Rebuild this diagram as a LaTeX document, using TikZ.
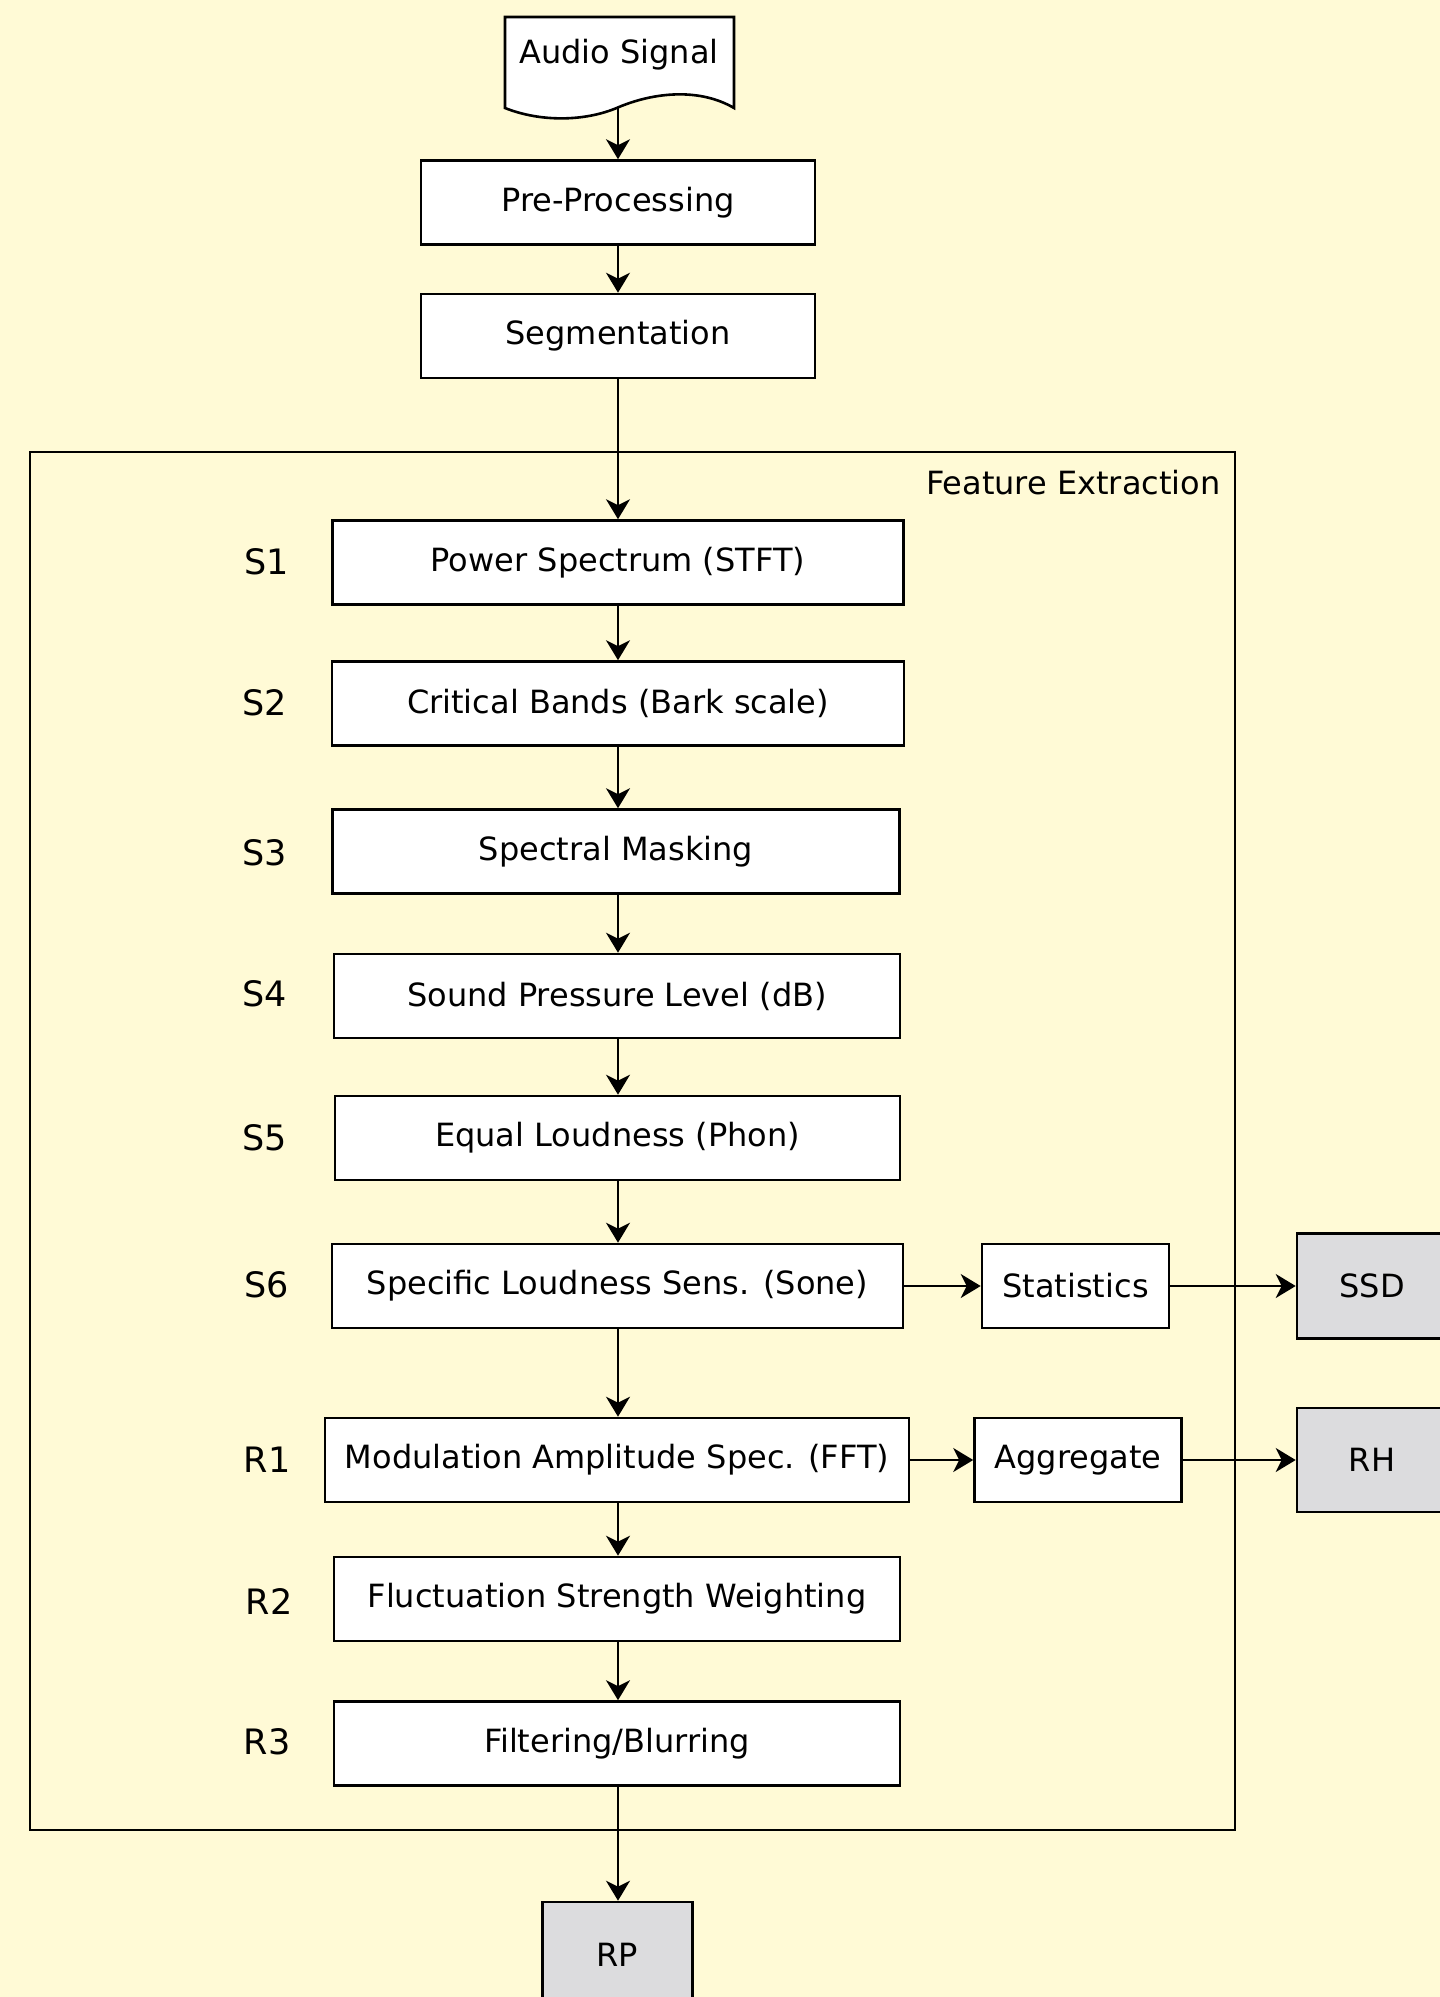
\documentclass[tikz,border=0pt]{standalone}
\usepackage{fontspec}
\setmainfont{DejaVu Sans}
\usetikzlibrary{arrows.meta}
\definecolor{bg}{RGB}{255,250,214}
\definecolor{outgray}{RGB}{220,220,222}
\begin{document}
\begin{tikzpicture}[x=0.5pt,y=-0.5pt,
  box/.style={draw=black, fill=white, line width=1.3pt, minimum height=42pt, minimum width=#1, inner sep=0pt, font=\fontsize{16}{19}\selectfont},
  outbox/.style={draw=black, fill=outgray, line width=1.3pt, minimum width=75pt, minimum height=52.5pt, inner sep=0pt, font=\fontsize{16}{19}\selectfont},
  lbl/.style={font=\fontsize{17.5}{20}\selectfont, inner sep=0pt},
  arr/.style={line width=1.2pt, -{Stealth[length=10pt,width=12pt,inset=3pt]}}
]
\useasboundingbox (0,0) rectangle (1440,1997);
\clip (0,0) rectangle (1440,1997);
\fill[bg] (0,0) rectangle (1440,1997);

% feature extraction frame
\draw[line width=1.2pt] (30,452) rectangle (1235,1830);
\node[anchor=east, font=\fontsize{16}{19}\selectfont, inner sep=0pt] (fetitle) at (1221,483) {Feature Extraction};

% audio signal document shape
\draw[fill=white, line width=1.3pt] (505,17) -- (734,17) -- (734,108)
  .. controls (700,88) and (655,92) .. (619,107)
  .. controls (585,122) and (540,122) .. (505,108) -- cycle;
\node[font=\fontsize{16}{19}\selectfont, inner sep=0pt] (audio) at (619,55) {Audio Signal};
\coordinate (audiobot) at (618,107);

\node[box=197pt] (pre) at (618,202.5) {Pre-Processing};
\node[box=197pt] (seg) at (618,336) {Segmentation};

\node[box=285.5pt] (s1) at (618,562.5) {Power Spectrum (STFT)};
\node[box=286pt] (s2) at (618,703.5) {Critical Bands (Bark scale)};
\node[box=283.5pt] (s3) at (616,851.5) {Spectral Masking};
\node[box=283pt] (s4) at (617,996) {Sound Pressure Level (dB)};
\node[box=282.5pt] (s5) at (617.5,1138) {Equal Loudness (Phon)};
\node[box=285.5pt] (s6) at (617.5,1286) {Specific Loudness Sens. (Sone)};
\node[box=292pt] (r1) at (617,1460) {Modulation Amplitude Spec. (FFT)};
\node[box=283pt] (r2) at (617,1599) {Fluctuation Strength Weighting};
\node[box=283pt] (r3) at (617,1743.5) {Filtering/Blurring};

\node[box=93.5pt] (stat) at (1075.5,1286) {Statistics};
\node[box=103.5pt] (aggr) at (1078,1460) {Aggregate};

\node[outbox] (ssd) at (1372,1286) {SSD};
\node[outbox, minimum height=52pt] (rh) at (1372,1460) {RH};
\node[outbox] (rp) at (617.5,1954.5) {RP};

\node[lbl] (ls1) at (267,562) {S1};
\node[lbl] (ls2) at (265,703) {S2};
\node[lbl] (ls3) at (265,853) {S3};
\node[lbl] (ls4) at (265,994) {S4};
\node[lbl] (ls5) at (265,1138) {S5};
\node[lbl] (ls6) at (267,1285) {S6};
\node[lbl] (lr1) at (267,1460) {R1};
\node[lbl] (lr2) at (269,1601) {R2};
\node[lbl] (lr3) at (267,1742) {R3};

\draw[arr] (audiobot) -- (pre.north);
\draw[arr] (pre) -- (seg);
\draw[arr] (seg.south) -- (s1.north -| seg.south);
\draw[arr] (s1.south -| seg.south) -- (s2.north -| seg.south);
\draw[arr] (s2.south -| seg.south) -- (s3.north -| seg.south);
\draw[arr] (s3.south -| seg.south) -- (s4.north -| seg.south);
\draw[arr] (s4.south -| seg.south) -- (s5.north -| seg.south);
\draw[arr] (s5.south -| seg.south) -- (s6.north -| seg.south);
\draw[arr] (s6.south -| seg.south) -- (r1.north -| seg.south);
\draw[arr] (r1.south -| seg.south) -- (r2.north -| seg.south);
\draw[arr] (r2.south -| seg.south) -- (r3.north -| seg.south);
\draw[arr] (r3.south -| seg.south) -- (rp.north -| seg.south);
\draw[arr] (s6.east) -- (stat.west);
\draw[arr] (stat.east) -- (ssd.west);
\draw[arr] (r1.east) -- (aggr.west);
\draw[arr] (aggr.east) -- (rh.west);
\end{tikzpicture}
\end{document}
